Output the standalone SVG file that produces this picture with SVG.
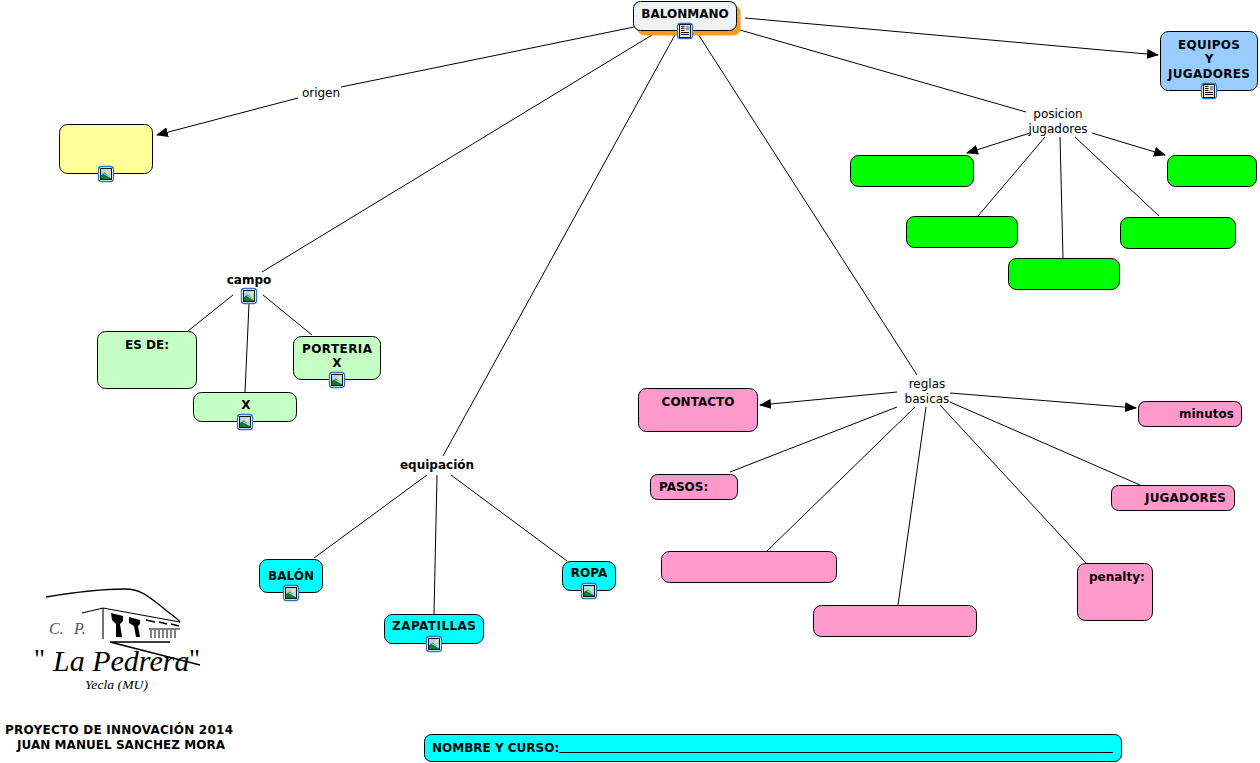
<svg xmlns="http://www.w3.org/2000/svg" width="1260" height="763" viewBox="0 0 1260 763">
<style>
text{font-family:"DejaVu Sans",Verdana,sans-serif;font-size:12px;fill:#000}
.b{font-weight:bold;text-anchor:middle}
.s{font-weight:bold}
.l{text-anchor:middle}
.n{stroke:#000;stroke-width:1}
.c line{stroke:#000;stroke-width:1}
.y{fill:#ffff99}.g{fill:#00ff00}.lg{fill:#c4ffc4}.p{fill:#ff99cc}.a{fill:#00ffff}.bl{fill:#99ccff}
</style>
<defs>
<marker id="ah" viewBox="0 0 12 10" refX="11" refY="5" markerWidth="12" markerHeight="10" markerUnits="userSpaceOnUse" orient="auto"><path d="M0 0L12 5L0 10z" fill="#000"/></marker>
<g id="pic"><rect x="-7.500" y="-7.500" width="15" height="15" rx="3" fill="#fff" stroke="#2f6fc8" stroke-width="1.300"/><rect x="-5.500" y="-5.500" width="11" height="11" fill="#b5d3f2" stroke="#111" stroke-width="1"/><circle cx="2.500" cy="-2.500" r="1.600" fill="#ffe860"/><path d="M-5 5L-5 1L-1.500-1.500L5 4L5 5z" fill="#137a2c"/><path d="M-2.500-.5L4.500 3.500" stroke="#e8f3e8" stroke-width=".8"/></g>
<g id="doc"><rect x="-7.500" y="-7.500" width="15" height="15" rx="3" fill="#fff" stroke="#2f6fc8" stroke-width="1.300"/><rect x="-5.500" y="-6.500" width="11" height="13" fill="#fff3a0" stroke="#111" stroke-width="1"/><path d="M-4-4.500H-.5M-4-2.500H-.5M-4-.5H-.5M-4 1.500H4M-4 3.500H4" stroke="#111" stroke-width="1"/><rect x="1" y="-5" width="3.500" height="4.500" fill="#7fa8c8"/></g>
</defs>
<rect width="1260" height="763" fill="#fff"/>
<g class="c" id="connectors">
<line x1="634" y1="27" x2="341" y2="87"/><line x1="298" y1="98" x2="157" y2="135" marker-end="url(#ah)"/>
<line x1="652" y1="35" x2="262" y2="272"/>
<line x1="233" y1="295" x2="188" y2="331"/><line x1="249" y1="304" x2="245" y2="392"/><line x1="263" y1="295" x2="312" y2="335"/>
<line x1="676" y1="33" x2="443" y2="456"/>
<line x1="427" y1="475" x2="314" y2="558"/><line x1="437" y1="475" x2="434" y2="614"/><line x1="451" y1="475" x2="567" y2="561"/>
<line x1="698" y1="34" x2="917" y2="375"/>
<line x1="740" y1="30" x2="1026" y2="112"/>
<line x1="745" y1="18" x2="1158" y2="55" marker-end="url(#ah)"/>
<line x1="1030" y1="133" x2="967" y2="153" marker-end="url(#ah)"/><line x1="1045" y1="137" x2="978" y2="216"/><line x1="1060" y1="137" x2="1063" y2="258"/><line x1="1075" y1="137" x2="1159" y2="216"/><line x1="1092" y1="133" x2="1165" y2="155" marker-end="url(#ah)"/>
<line x1="897" y1="392" x2="760" y2="405" marker-end="url(#ah)"/><line x1="897" y1="407" x2="730" y2="472"/><line x1="915" y1="407" x2="767" y2="551"/><line x1="926" y1="407" x2="898" y2="605"/><line x1="940" y1="405" x2="1086" y2="563"/><line x1="950" y1="402" x2="1140" y2="485"/><line x1="950" y1="393" x2="1136" y2="408" marker-end="url(#ah)"/>
</g>
<g id="balonmano"><rect x="637.500" y="5.500" width="103" height="30" rx="7" fill="#ff9a1a"/><rect class="n" x="633.500" y="1.500" width="103" height="29" rx="7" fill="#edf3f7"/><text class="b" x="685" y="18">BALONMANO</text><use href="#doc" x="685" y="31"/></g>
<g id="origen"><text class="l" x="321" y="97">origen</text></g>
<g id="yellow"><rect class="n y" x="59.500" y="124.500" width="93" height="49" rx="8"/><use href="#pic" x="106" y="174"/></g>
<g id="equipos"><rect class="n bl" x="1160.500" y="31.500" width="97" height="59" rx="8"/><text class="b" x="1209" y="49" textLength="62">EQUIPOS</text><text class="b" x="1209" y="63">Y</text><text class="b" x="1209" y="78" textLength="82">JUGADORES</text><use href="#doc" x="1209" y="91"/></g>
<g id="posicion"><text class="l" x="1058" y="118">posicion</text><text class="l" x="1058" y="133">jugadores</text></g>
<g id="g1"><rect class="n g" x="850.500" y="155.500" width="123" height="31" rx="8"/></g>
<g id="g2"><rect class="n g" x="906.500" y="216.500" width="111" height="31" rx="8"/></g>
<g id="g3"><rect class="n g" x="1008.500" y="258.500" width="111" height="31" rx="8"/></g>
<g id="g4"><rect class="n g" x="1120.500" y="217.500" width="115" height="31" rx="8"/></g>
<g id="g5"><rect class="n g" x="1167.500" y="155.500" width="89" height="31" rx="8"/></g>
<g id="campo"><text class="b" x="249" y="284">campo</text><use href="#pic" x="249" y="296"/></g>
<g id="esde"><rect class="n lg" x="97.500" y="331.500" width="99" height="57" rx="8"/><text class="b" x="147" y="349">ES DE:</text></g>
<g id="x"><rect class="n lg" x="193.500" y="392.500" width="103" height="29" rx="8"/><text class="b" x="246" y="409">X</text><use href="#pic" x="245" y="422"/></g>
<g id="porteria"><rect class="n lg" x="293.500" y="336.500" width="87" height="43" rx="8"/><text class="b" x="337" y="353" textLength="70">PORTERIA</text><text class="b" x="337" y="367">X</text><use href="#pic" x="337" y="380"/></g>
<g id="equipacion"><text class="b" x="437" y="469">equipación</text></g>
<g id="balon"><rect class="n a" x="259.500" y="559.500" width="63" height="33" rx="8"/><text class="b" x="291" y="580">BALÓN</text><use href="#pic" x="291" y="593"/></g>
<g id="zapatillas"><rect class="n a" x="384.500" y="614.500" width="99" height="29" rx="8"/><text class="b" x="434" y="630" textLength="84">ZAPATILLAS</text><use href="#pic" x="434" y="644"/></g>
<g id="ropa"><rect class="n a" x="562.500" y="561.500" width="53" height="29" rx="8"/><text class="b" x="589" y="577">ROPA</text><use href="#pic" x="589" y="591"/></g>
<g id="reglas"><text class="l" x="927" y="388">reglas</text><text class="l" x="927" y="403">basicas</text></g>
<g id="contacto"><rect class="n p" x="638.500" y="388.500" width="119" height="43" rx="8"/><text class="b" x="698" y="406">CONTACTO</text></g>
<g id="pasos"><rect class="n p" x="650.500" y="474.500" width="87" height="25" rx="7"/><text class="s" x="659" y="491">PASOS:</text></g>
<g id="p1"><rect class="n p" x="661.500" y="551.500" width="175" height="31" rx="8"/></g>
<g id="p2"><rect class="n p" x="813.500" y="605.500" width="163" height="31" rx="8"/></g>
<g id="penalty"><rect class="n p" x="1077.500" y="563.500" width="75" height="57" rx="8"/><text class="s" x="1089" y="581">penalty:</text></g>
<g id="jugadores"><rect class="n p" x="1111.500" y="485.500" width="123" height="25" rx="7"/><text class="s" x="1145" y="502" textLength="81">JUGADORES</text></g>
<g id="minutos"><rect class="n p" x="1138.500" y="401.500" width="103" height="25" rx="7"/><text class="s" x="1179" y="418">minutos</text></g>
<g id="nombre"><rect class="n a" x="424.500" y="734.500" width="697" height="27" rx="7"/><text class="s" x="432" y="752">NOMBRE Y CURSO:</text><rect x="559" y="752" width="554" height="1" fill="#000"/></g>
<g id="logo" fill="none" stroke="#000">
<path d="M46 597C70 593 105 589 125 589C142 589 150 598 162 607C170 614 177 618 180 622" stroke-width="1.300"/>
<path d="M82 613L103 608L180 622M103 608V639" stroke-width="1.100"/>
<path d="M110 642H170M110 642L200 665" stroke-width="1.300"/>
<path d="M111 613L123 616V621L120 624L122 637H116V624L112 620zM129 617L140 620V624L138 626L140 637H136L134 626L129 623z" fill="#000" stroke="none"/>
<path d="M146 620L155 622M159 622L167 624M171 624L179 626" stroke-width="1.600"/>
<path d="M149 629H180M151 630V638M155 630V638M159 630V638M163 630V638M167 630V638M171 630V638M175 630V638" stroke-width="1"/>
</g>
<g id="logotext">
<text x="49" y="634" style="font-family:'Liberation Serif',serif;font-style:italic;font-size:16px;fill:#555">C.</text>
<text x="74" y="634" style="font-family:'Liberation Serif',serif;font-style:italic;font-size:16px;fill:#555">P.</text>
<text x="34" y="668" style="font-family:'Liberation Serif',serif;font-size:27px">"</text>
<text x="189" y="668" style="font-family:'Liberation Serif',serif;font-size:27px">"</text>
<text x="53" y="671" style="font-family:'Liberation Serif',serif;font-style:italic;font-size:30px">La Pedrera</text>
<text x="85" y="689" textLength="63" lengthAdjust="spacingAndGlyphs" style="font-family:'Liberation Serif',serif;font-style:italic;font-size:12px">Yecla (MU)</text>
</g>
<g id="proyecto"><text class="b" x="119" y="734" textLength="228">PROYECTO DE INNOVACIÓN 2014</text><text class="b" x="121" y="749" textLength="208">JUAN MANUEL SANCHEZ MORA</text></g>
</svg>
